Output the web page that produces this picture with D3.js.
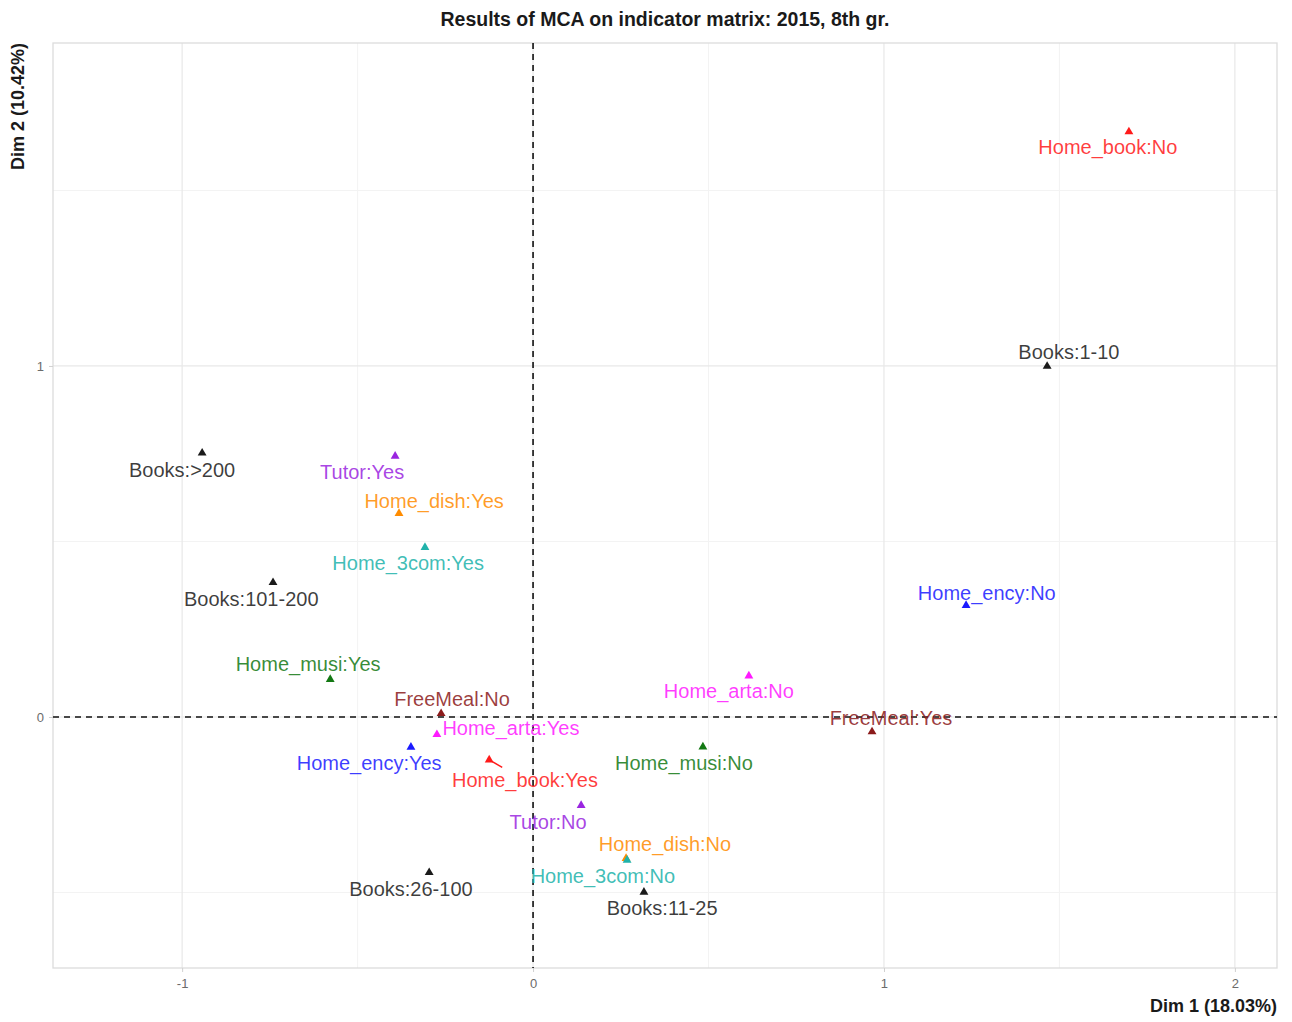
<!DOCTYPE html>
<html>
<head>
<meta charset="utf-8">
<script src="https://cdn.jsdelivr.net/npm/d3@7"></script>
<style>
  html, body { margin: 0; padding: 0; background: #fff; }
  svg { display: block; font-family: "Liberation Sans", Arial, Helvetica, sans-serif; }
</style>
</head>
<body>
<svg id="chart" width="1292" height="1022"></svg>
<script>
// MCA category coordinates (Dim 1, Dim 2)
const categories = [
  "Books:>200", "Books:101-200", "Books:26-100", "Books:11-25", "Books:1-10",
  "Home_book:Yes", "Home_book:No",
  "Home_ency:Yes", "Home_ency:No",
  "Home_arta:Yes", "Home_arta:No",
  "FreeMeal:No", "FreeMeal:Yes",
  "Home_musi:Yes", "Home_musi:No",
  "Tutor:Yes", "Tutor:No",
  "Home_dish:Yes", "Home_dish:No",
  "Home_3com:Yes", "Home_3com:No"
];
const variables = [
  "Books", "Books", "Books", "Books", "Books",
  "Home_book", "Home_book",
  "Home_ency", "Home_ency",
  "Home_arta", "Home_arta",
  "FreeMeal", "FreeMeal",
  "Home_musi", "Home_musi",
  "Tutor", "Tutor",
  "Home_dish", "Home_dish",
  "Home_3com", "Home_3com"
];
const dim1 = [
  -0.943, -0.741, -0.296, 0.316, 1.465,
  -0.125, 1.698,
  -0.348, 1.234,
  -0.274, 0.615,
  -0.262, 0.966,
  -0.578, 0.484,
  -0.393, 0.137,
  -0.382, 0.265,
  -0.308, 0.268
];
const dim2 = [
  0.752, 0.383, -0.443, -0.499, 0.999,
  -0.122, 1.667,
  -0.086, 0.318,
  -0.050, 0.117,
  0.010, -0.042,
  0.107, -0.085,
  0.743, -0.252,
  0.580, -0.403,
  0.483, -0.408
];
// repelled label anchors, in Dim 1 / Dim 2 units
const labelDim1 = [
  -1.000, -0.803, -0.348, 0.368, 1.527,
  -0.023, 1.638,
  -0.467, 1.293,
  -0.063, 0.558,
  -0.231, 1.020,
  -0.641, 0.430,
  -0.487, 0.043,
  -0.282, 0.376,
  -0.356, 0.199
];
const labelDim2 = [
  0.704, 0.336, -0.490, -0.544, 1.040,
  -0.179, 1.624,
  -0.131, 0.353,
  -0.031, 0.074,
  0.051, -0.003,
  0.151, -0.131,
  0.698, -0.299,
  0.615, -0.362,
  0.439, -0.453
];
const variableNames = ["Books", "Home_book", "Home_ency", "Home_arta", "FreeMeal", "Home_musi", "Tutor", "Home_dish", "Home_3com"];
const variableColors = ["#1a1a1a", "#ff1a1a", "#1a1aff", "#ff1aff", "#8b1a1a", "#137813", "#9a25e0", "#ff8c00", "#20b2aa"];
const xTicks = [-1, 0, 1, 2];
const yTicks = [0, 1];
const xMinor = [-0.5, 0.5, 1.5];
const yMinor = [-0.5, 0.5, 1.5];

const titleText = "Results of MCA on indicator matrix: 2015, 8th gr.";
const xTitle = "Dim 1 (18.03%)";
const yTitle = "Dim 2 (10.42%)";

const svg = d3.select("#chart");
const panel = { left: 53, right: 1277, top: 43, bottom: 968 };

const x = d3.scaleLinear().domain([-1.368, 2.120]).range([panel.left, panel.right]);
const y = d3.scaleLinear().domain([-0.715, 1.920]).range([panel.bottom, panel.top]);
const color = d3.scaleOrdinal().domain(variableNames).range(variableColors);

const rows = categories.map((c, i) => ({
  name: c, variable: variables[i], d1: dim1[i], d2: dim2[i], l1: labelDim1[i], l2: labelDim2[i]
}));

// grid lines
const grid = svg.append("g");
grid.selectAll("line.minx").data(xMinor).join("line")
  .attr("x1", d => x(d)).attr("x2", d => x(d)).attr("y1", panel.top).attr("y2", panel.bottom)
  .attr("stroke", "#f3f3f3").attr("stroke-width", 1);
grid.selectAll("line.miny").data(yMinor).join("line")
  .attr("y1", d => y(d)).attr("y2", d => y(d)).attr("x1", panel.left).attr("x2", panel.right)
  .attr("stroke", "#f3f3f3").attr("stroke-width", 1);
grid.selectAll("line.majx").data(xTicks).join("line")
  .attr("x1", d => x(d)).attr("x2", d => x(d)).attr("y1", panel.top).attr("y2", panel.bottom)
  .attr("stroke", "#e8e8e8").attr("stroke-width", 1.2);
grid.selectAll("line.majy").data(yTicks).join("line")
  .attr("y1", d => y(d)).attr("y2", d => y(d)).attr("x1", panel.left).attr("x2", panel.right)
  .attr("stroke", "#e8e8e8").attr("stroke-width", 1.2);

// panel border
svg.append("rect")
  .attr("x", panel.left).attr("y", panel.top)
  .attr("width", panel.right - panel.left).attr("height", panel.bottom - panel.top)
  .attr("fill", "none").attr("stroke", "#dcdcdc").attr("stroke-width", 1.3);

// axes (plain hyphen for negative ticks)
const tickFmt = d => String(d);
const xAxis = d3.axisBottom(x).tickValues(xTicks).tickSize(4).tickPadding(7).tickFormat(tickFmt);
const gx = svg.append("g").attr("transform", `translate(0,${panel.bottom})`).call(xAxis);
const yAxis = d3.axisLeft(y).tickValues(yTicks).tickSize(4).tickPadding(5).tickFormat(tickFmt);
const gy = svg.append("g").attr("transform", `translate(${panel.left},0)`).call(yAxis);
[gx, gy].forEach(g => {
  g.select(".domain").remove();
  g.selectAll(".tick line").attr("stroke", "#d0d0d0");
  g.selectAll(".tick text").attr("fill", "#6b6b6b").attr("font-size", 13)
    .attr("font-family", "'Liberation Sans', Arial, sans-serif");
});

// reference lines at the origin
svg.append("line")
  .attr("x1", x(0)).attr("x2", x(0)).attr("y1", panel.top).attr("y2", panel.bottom)
  .attr("stroke", "#111").attr("stroke-width", 1.6).attr("stroke-dasharray", "6,5");
svg.append("line")
  .attr("y1", y(0)).attr("y2", y(0)).attr("x1", panel.left).attr("x2", panel.right)
  .attr("stroke", "#111").attr("stroke-width", 1.6).attr("stroke-dasharray", "6,5");

// category points
const tri = d3.symbol().type(d3.symbolTriangle).size(34);
svg.append("g").selectAll("path").data(rows).join("path")
  .attr("d", tri)
  .attr("transform", d => `translate(${x(d.d1)},${y(d.d2)})`)
  .attr("fill", d => color(d.variable));

// labels
const labelG = svg.append("g");
const labels = labelG.selectAll("text").data(rows).join("text")
  .attr("x", d => x(d.l1)).attr("y", d => y(d.l2))
  .attr("text-anchor", "middle").attr("dominant-baseline", "central")
  .attr("font-size", 20)
  .attr("fill", d => color(d.variable))
  .attr("fill-opacity", 0.85)
  .text(d => d.name);

// leader segments for labels pushed away from their point
labels.each(function(d) {
  const b = this.getBBox();
  const px = x(d.d1), py = y(d.d2);
  const cx = b.x + b.width / 2, cy = b.y + b.height / 2;
  const nx = Math.max(b.x, Math.min(px, b.x + b.width));
  const ny = Math.max(b.y + 3, Math.min(py, b.y + b.height - 3));
  const len = Math.hypot(nx - px, ny - py);
  if (len > 9) {
    // aim toward the label centre, stop short at the text edge
    const dx = cx - px, dy = cy - py, dl = Math.hypot(dx, dy);
    const ux = dx / dl, uy = dy / dl;
    labelG.insert("line", "text")
      .attr("x1", px + ux * 2).attr("y1", py + uy * 2)
      .attr("x2", px + ux * 15).attr("y2", py + uy * 15)
      .attr("stroke", color(d.variable)).attr("stroke-width", 1.5);
  }
});

// titles
svg.append("text")
  .attr("x", (panel.left + panel.right) / 2).attr("y", 26)
  .attr("text-anchor", "middle").attr("font-weight", "bold").attr("font-size", 19.5)
  .attr("fill", "#1a1a1a")
  .text(titleText);
svg.append("text")
  .attr("x", panel.right).attr("y", 1012)
  .attr("text-anchor", "end").attr("font-weight", "bold").attr("font-size", 18)
  .attr("fill", "#1a1a1a")
  .text(xTitle);
svg.append("text")
  .attr("transform", `translate(24,${panel.top}) rotate(-90)`)
  .attr("text-anchor", "end").attr("font-weight", "bold").attr("font-size", 18)
  .attr("fill", "#1a1a1a")
  .text(yTitle);
</script>
</body>
</html>
